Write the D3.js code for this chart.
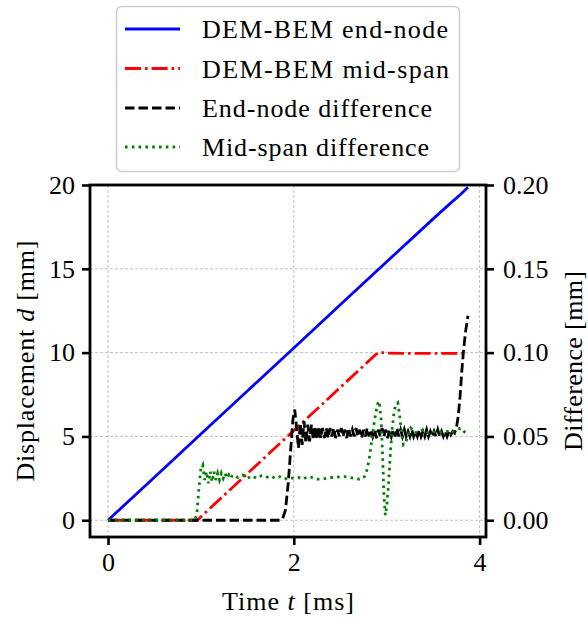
<!DOCTYPE html>
<html>
<head>
<meta charset="utf-8">
<script src="https://cdn.jsdelivr.net/npm/d3@7"></script>
<style>
  html, body { margin: 0; padding: 0; background: #fff; }
  svg { display: block; }
  text { font-family: "Liberation Serif", "Times New Roman", serif; fill: #000; }
</style>
</head>
<body>
<svg id="chart" width="588" height="622"></svg>
<script>
// ---------------- DATA ----------------
const xTicks = [0, 2, 4];
const yTicksLeft = [0, 5, 10, 15, 20];
const yTicksRight = [0.00, 0.05, 0.10, 0.15, 0.20];

const seriesNames = ["DEM-BEM end-node", "DEM-BEM mid-span", "End-node difference", "Mid-span difference"];

// DEM-BEM end-node displacement [mm] vs time [ms]
const endNode = [[0,0],[0.5,2.57],[1.0,5.14],[1.5,7.71],[2.0,10.28],[2.5,12.85],[3.0,15.42],[3.5,17.98],[3.7,18.98],[3.8,19.46],[3.875,19.86]];

// DEM-BEM mid-span displacement [mm]
const midSpan = [[0,0],[0.96,0],[1.5,2.78],[2.0,5.35],[2.5,7.92],[2.88,9.88],[2.93,10.03],[2.98,9.97],[3.2,9.96],[3.5,9.96],[3.875,9.96]];

// End-node difference [mm] (right axis)
const endDiff = [[0,0],[1.85,0],[1.88,0.001],[1.91,0.006],[1.94,0.022],[1.97,0.045],[1.99,0.060],[2.01,0.066],[2.03,0.055],
 [2.05,0.043],[2.07,0.058],[2.09,0.045],[2.11,0.059],[2.13,0.046],[2.15,0.057],[2.17,0.047],[2.19,0.057],[2.21,0.048],[2.23,0.056],
 [2.25,0.048],[2.27,0.056],[2.29,0.049],[2.31,0.055],[2.33,0.049],[2.35,0.055],[2.37,0.049],[2.39,0.055],[2.41,0.050],[2.43,0.055],
 [2.45,0.049],[2.47,0.054],[2.49,0.050],[2.51,0.055],[2.53,0.050],[2.55,0.054],[2.57,0.049],[2.59,0.055],[2.61,0.050],[2.63,0.054],
 [2.65,0.050],[2.67,0.055],[2.69,0.050],[2.71,0.054],[2.73,0.049],[2.75,0.054],[2.77,0.050],[2.79,0.055],[2.81,0.050],[2.83,0.054],
 [2.85,0.050],[2.87,0.054],[2.89,0.049],[2.91,0.054],[2.93,0.050],[2.95,0.055],[2.97,0.050],[2.99,0.054],[3.01,0.049],[3.03,0.054],
 [3.05,0.050],[3.07,0.054],[3.09,0.050],[3.11,0.055],[3.13,0.050],[3.15,0.054],[3.17,0.050],[3.19,0.054],[3.21,0.050],[3.23,0.053],
 [3.25,0.050],[3.27,0.054],[3.29,0.050],[3.31,0.053],[3.33,0.050],[3.35,0.054],[3.37,0.050],[3.39,0.053],[3.41,0.050],[3.43,0.054],
 [3.45,0.050],[3.47,0.053],[3.49,0.050],[3.51,0.053],[3.53,0.050],[3.55,0.054],[3.57,0.050],[3.59,0.053],[3.61,0.050],[3.63,0.053],
 [3.65,0.050],[3.67,0.053],[3.69,0.051],[3.71,0.053],[3.73,0.052],
 [3.75,0.055],[3.77,0.062],[3.79,0.074],[3.81,0.090],[3.83,0.103],[3.85,0.113],[3.875,0.122]];

// Mid-span difference [mm] (right axis)
const midDiff = [[0,0],[0.93,0],[0.94,0.0005],[0.96,0.006],[0.98,0.020],[1.00,0.031],[1.02,0.033],[1.04,0.024],[1.06,0.029],
 [1.08,0.022],[1.10,0.029],[1.12,0.023],[1.14,0.029],[1.16,0.024],[1.18,0.028],[1.20,0.024],[1.22,0.028],[1.24,0.025],[1.26,0.028],
 [1.28,0.025],[1.30,0.027],[1.32,0.025],[1.34,0.027],[1.40,0.0255],[1.45,0.027],[1.50,0.025],[1.55,0.0265],[1.60,0.025],[1.65,0.0265],
 [1.70,0.0255],[1.75,0.0265],[1.80,0.025],[1.85,0.026],[1.90,0.0245],[1.95,0.0255],[2.00,0.025],[2.05,0.0255],[2.10,0.0245],[2.15,0.026],
 [2.20,0.0255],[2.25,0.0245],[2.30,0.0245],[2.35,0.025],[2.40,0.0255],[2.45,0.0255],[2.50,0.026],[2.55,0.026],[2.60,0.0255],[2.65,0.025],
 [2.70,0.0245],[2.75,0.025],[2.78,0.028],[2.81,0.036],[2.84,0.048],[2.87,0.060],[2.90,0.069],[2.92,0.071],[2.94,0.060],[2.955,0.040],
 [2.97,0.015],[2.985,0.003],[3.00,0.008],[3.02,0.022],[3.04,0.040],[3.06,0.055],[3.08,0.065],[3.10,0.069],[3.12,0.070],[3.14,0.062],
 [3.16,0.052],[3.18,0.045],[3.20,0.046],[3.22,0.049],[3.24,0.052],[3.26,0.055],[3.28,0.054],[3.30,0.052],[3.35,0.053],[3.40,0.054],
 [3.45,0.052],[3.50,0.053],[3.55,0.052],[3.60,0.053],[3.65,0.053],[3.70,0.052],[3.75,0.054],[3.80,0.055],[3.83,0.053],[3.87,0.051]];

// ---------------- CHART ----------------
const svg = d3.select("#chart");
const L = 90, R = 486, T = 185, B = 537;
const FS = 26;

const x = d3.scaleLinear().domain([-0.194, 4.069]).range([L, R]);
const yL = d3.scaleLinear().domain([-1, 20]).range([B, T]);
const yR = d3.scaleLinear().domain([-0.01, 0.20]).range([B, T]);

// grid
const grid = svg.append("g").attr("stroke", "#b0b0b0").attr("stroke-width", 0.8).attr("stroke-dasharray", "3,2");
grid.selectAll(".gx").data(xTicks).enter().append("line")
  .attr("x1", d => x(d)).attr("x2", d => x(d)).attr("y1", T).attr("y2", B);
grid.selectAll(".gy").data(yTicksLeft).enter().append("line")
  .attr("x1", L).attr("x2", R).attr("y1", d => yL(d)).attr("y2", d => yL(d));

// lines
const lineL = d3.line().x(d => x(d[0])).y(d => yL(d[1]));
const lineR = d3.line().x(d => x(d[0])).y(d => yR(d[1]));

const LW = 2.8;
const plot = svg.append("g");
plot.append("path").datum(endNode).attr("d", lineL).attr("fill", "none")
  .attr("stroke", "#0000ff").attr("stroke-width", LW);
plot.append("path").datum(midSpan).attr("d", lineL).attr("fill", "none")
  .attr("stroke", "#ff0000").attr("stroke-width", LW).attr("stroke-dasharray", "16,4,2.6,4");
plot.append("path").datum(endDiff).attr("d", lineR).attr("fill", "none")
  .attr("stroke", "#000000").attr("stroke-width", LW).attr("stroke-dasharray", "9.5,4");
plot.append("path").datum(midDiff).attr("d", lineR).attr("fill", "none")
  .attr("stroke", "#008000").attr("stroke-width", LW).attr("stroke-dasharray", "2.6,4.2");

// axes
const axB = d3.axisBottom(x).tickValues(xTicks).tickSize(8).tickPadding(8).tickFormat(d3.format("d"));
const axL = d3.axisLeft(yL).tickValues(yTicksLeft).tickSize(8).tickPadding(7).tickFormat(d3.format("d"));
const axR = d3.axisRight(yR).tickValues(yTicksRight).tickSize(8).tickPadding(9).tickFormat(d3.format(".2f"));

function styleAxis(g) {
  g.attr("font-family", null).attr("font-size", null);
  g.select(".domain").remove();
  g.selectAll(".tick line").attr("stroke", "#000").attr("stroke-width", 2.6);
  g.selectAll(".tick text").attr("font-size", FS);
}
svg.append("g").attr("transform", `translate(0,${B})`).call(axB).call(styleAxis);
svg.append("g").attr("transform", `translate(${L},0)`).call(axL).call(styleAxis);
svg.append("g").attr("transform", `translate(${R},0)`).call(axR).call(styleAxis);

// frame
svg.append("rect").attr("x", L).attr("y", T).attr("width", R - L).attr("height", B - T)
  .attr("fill", "none").attr("stroke", "#000").attr("stroke-width", 2.8);

// axis labels
const xl = svg.append("text").attr("x", (L + R) / 2).attr("y", 610).attr("text-anchor", "middle")
  .attr("font-size", FS).attr("textLength", 132).attr("lengthAdjust", "spacing");
xl.append("tspan").text("Time ");
xl.append("tspan").attr("font-style", "italic").text("t");
xl.append("tspan").text(" [ms]");

const yl = svg.append("text").attr("transform", `translate(34,${(T + B) / 2}) rotate(-90)`)
  .attr("text-anchor", "middle").attr("font-size", FS).attr("textLength", 241).attr("lengthAdjust", "spacing");
yl.append("tspan").text("Displacement ");
yl.append("tspan").attr("font-style", "italic").text("d");
yl.append("tspan").text(" [mm]");

svg.append("text").attr("transform", `translate(582,${(T + B) / 2}) rotate(-90)`)
  .attr("text-anchor", "middle").attr("font-size", FS).attr("textLength", 180).attr("lengthAdjust", "spacing")
  .text("Difference [mm]");

// legend
const leg = svg.append("g");
leg.append("rect").attr("x", 116.5).attr("y", 6.5).attr("width", 343).attr("height", 165).attr("rx", 5)
  .attr("fill", "#fff").attr("fill-opacity", 0.8).attr("stroke", "#cccccc").attr("stroke-width", 1.5);
const legStyles = [
  { c: "#0000ff", dash: null },
  { c: "#ff0000", dash: "16,4,2.6,4" },
  { c: "#000000", dash: "9.5,4" },
  { c: "#008000", dash: "2.6,4.2" }
];
const legLen = [246, 247, 230, 227];
const rowY = [29, 68.5, 108, 147];
seriesNames.forEach((name, i) => {
  const ln = leg.append("line").attr("x1", 125).attr("x2", 180).attr("y1", rowY[i]).attr("y2", rowY[i])
    .attr("stroke", legStyles[i].c).attr("stroke-width", LW);
  if (legStyles[i].dash) ln.attr("stroke-dasharray", legStyles[i].dash);
  leg.append("text").attr("x", 202).attr("y", rowY[i] + 9).attr("font-size", FS)
    .attr("textLength", legLen[i]).attr("lengthAdjust", "spacing").text(name);
});
</script>
</body>
</html>
